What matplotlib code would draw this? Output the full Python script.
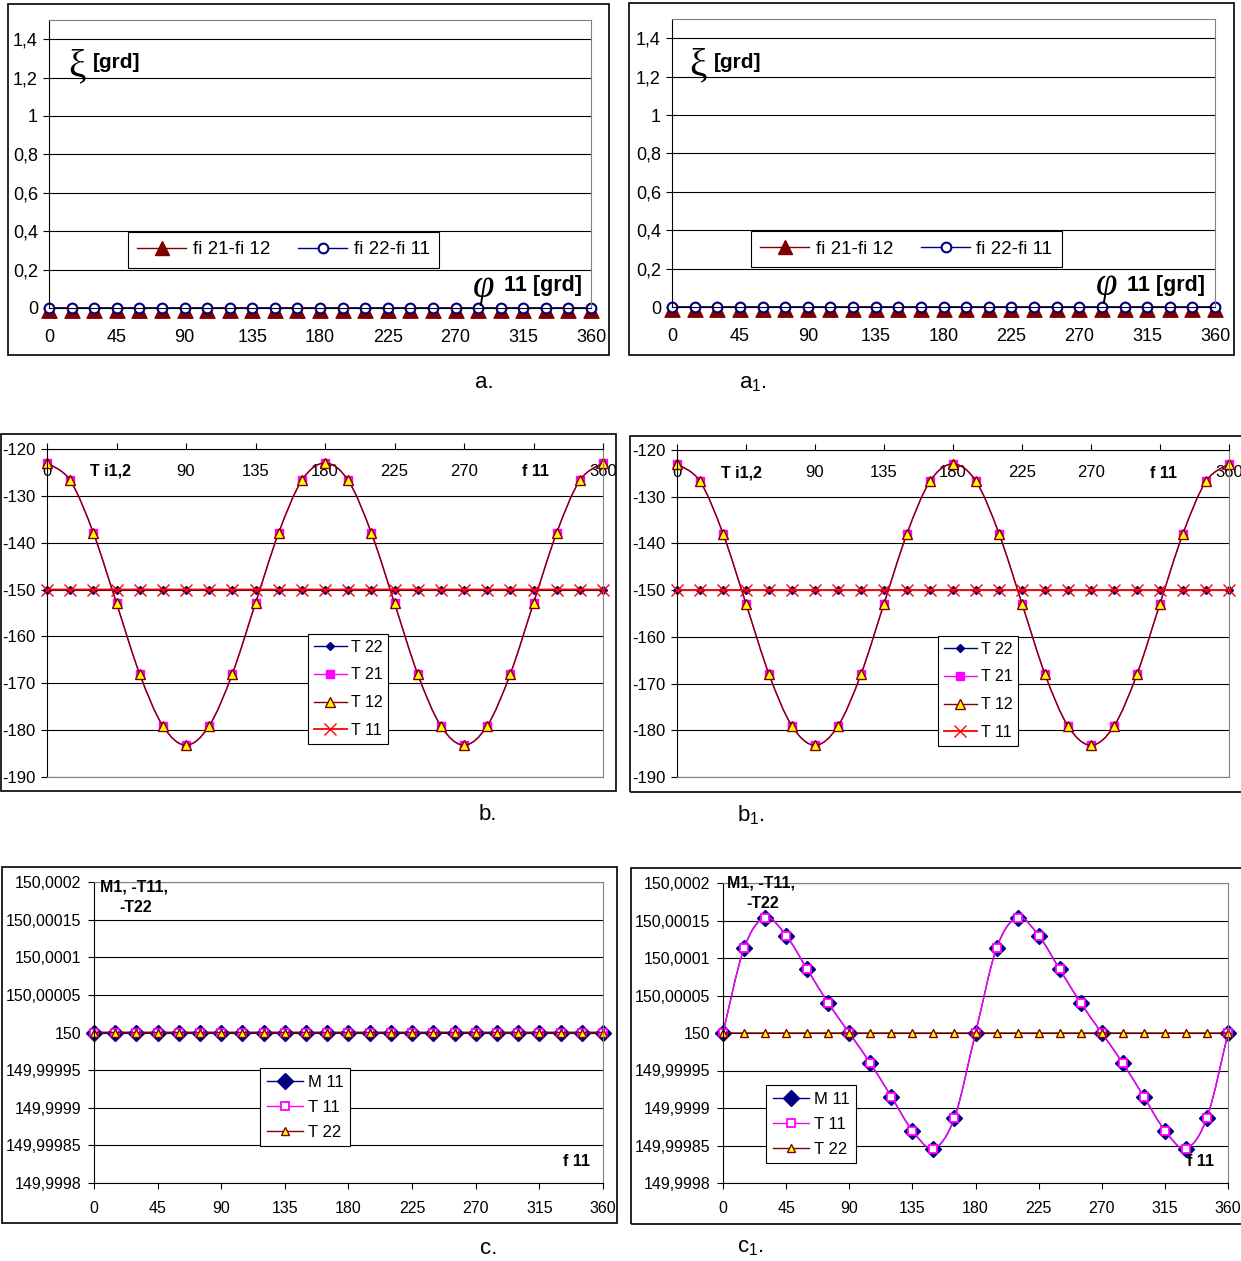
import numpy as np
import matplotlib
matplotlib.use("Agg")
import matplotlib.pyplot as plt
from matplotlib.path import Path
from matplotlib.patches import PathPatch, Rectangle
from matplotlib.lines import Line2D

plt.rcParams['font.family'] = ['Liberation Sans', 'DejaVu Sans']
plt.rcParams['mathtext.fontset'] = 'custom'
plt.rcParams['mathtext.rm'] = 'Liberation Sans'
plt.rcParams['mathtext.it'] = 'Liberation Sans:italic'

# crank angle f11 [deg]
PHI = [0, 15, 30, 45, 60, 75, 90, 105, 120, 135, 150, 165, 180,
       195, 210, 225, 240, 255, 270, 285, 300, 315, 330, 345, 360]
X_TICKS = [0, 45, 90, 135, 180, 225, 270, 315, 360]
X_LABELS = ['0', '45', '90', '135', '180', '225', '270', '315', '360']
# in b/b1 the 45 and 315 slots are taken by the axis titles
X_LABELS_B = ['0', '', '90', '135', '180', '225', '270', '', '360']

# a / a1 : phase differences
FI21_FI12 = [0, 0, 0, 0, 0, 0, 0, 0, 0, 0, 0, 0, 0,
             0, 0, 0, 0, 0, 0, 0, 0, 0, 0, 0, 0]
FI22_FI11 = [0, 0, 0, 0, 0, 0, 0, 0, 0, 0, 0, 0, 0,
             0, 0, 0, 0, 0, 0, 0, 0, 0, 0, 0, 0]
A_TICKS = [0, 0.2, 0.4, 0.6, 0.8, 1.0, 1.2, 1.4]
A_LABELS = ['0', '0,2', '0,4', '0,6', '0,8', '1', '1,2', '1,4']

# b / b1 : joint forces
T22 = [-150, -150, -150, -150, -150, -150, -150, -150, -150, -150, -150, -150, -150,
       -150, -150, -150, -150, -150, -150, -150, -150, -150, -150, -150, -150]
T21 = [-123.0, -126.7, -137.9, -152.9, -168.0, -179.1, -183.2, -179.1, -168.0,
       -152.9, -137.9, -126.7, -123.0, -126.7, -137.9, -152.9, -168.0, -179.1,
       -183.2, -179.1, -168.0, -152.9, -137.9, -126.7, -123.0]
T12 = [-123.0, -126.7, -137.9, -152.9, -168.0, -179.1, -183.2, -179.1, -168.0,
       -152.9, -137.9, -126.7, -123.0, -126.7, -137.9, -152.9, -168.0, -179.1,
       -183.2, -179.1, -168.0, -152.9, -137.9, -126.7, -123.0]
T11 = [-150, -150, -150, -150, -150, -150, -150, -150, -150, -150, -150, -150, -150,
       -150, -150, -150, -150, -150, -150, -150, -150, -150, -150, -150, -150]
B_TICKS = [-190, -180, -170, -160, -150, -140, -130, -120]
B_LABELS = ['-190', '-180', '-170', '-160', '-150', '-140', '-130', '-120']

# c : moment and forces, rigid case
C_FLAT = [150, 150, 150, 150, 150, 150, 150, 150, 150, 150, 150, 150, 150,
          150, 150, 150, 150, 150, 150, 150, 150, 150, 150, 150, 150]
# c1 : moment M11 and force -T11, elastic case
M11_C1 = [150.0, 150.000113, 150.000154, 150.00013, 150.000085, 150.00004,
          150.0, 149.99996, 149.999915, 149.99987, 149.999846, 149.999887,
          150.0, 150.000113, 150.000154, 150.00013, 150.000085, 150.00004,
          150.0, 149.99996, 149.999915, 149.99987, 149.999846, 149.999887, 150.0]
T11_C1 = [150.0, 150.000113, 150.000154, 150.00013, 150.000085, 150.00004,
          150.0, 149.99996, 149.999915, 149.99987, 149.999846, 149.999887,
          150.0, 150.000113, 150.000154, 150.00013, 150.000085, 150.00004,
          150.0, 149.99996, 149.999915, 149.99987, 149.999846, 149.999887, 150.0]
T22_C1 = [150, 150, 150, 150, 150, 150, 150, 150, 150, 150, 150, 150, 150,
          150, 150, 150, 150, 150, 150, 150, 150, 150, 150, 150, 150]
C_TICKS = [149.9998, 149.99985, 149.9999, 149.99995, 150.0,
           150.00005, 150.0001, 150.00015, 150.0002]
C_LABELS = ['149,9998', '149,99985', '149,9999', '149,99995', '150',
            '150,00005', '150,0001', '150,00015', '150,0002']

NAVY = '#000080'
MAROON = '#800000'
MAGENTA = '#FF00FF'
RED = '#FF0000'
YELLOW = '#FFFF00'
GRAY = '#808080'

# triangle marker hanging slightly below its point
LOW_TRIANGLE = Path([(0, 0.7), (-1, -1.3), (1, -1.3), (0, 0.7)],
                    [Path.MOVETO, Path.LINETO, Path.LINETO, Path.CLOSEPOLY])

W, H = 1241, 1261
fig = plt.figure(figsize=(W / 100, H / 100), dpi=100)


def fx(x):
    return x / W


def fy(y):
    return 1 - y / H


def axes_px(left, top, right, bottom):
    return fig.add_axes([fx(left), fy(bottom), (right - left) / W, (bottom - top) / H])


def frame_px(left, top, right, bottom):
    fig.add_artist(Rectangle((fx(left), fy(bottom)), (right - left) / W, (bottom - top) / H,
                             transform=fig.transFigure, fill=False, ec='black', lw=1.2))


def text_px(x, y, s, **kw):
    kw.setdefault('va', 'center')
    kw.setdefault('ha', 'left')
    fig.text(fx(x), fy(y), s, **kw)


def smooth_path(xs, ys):
    # smoothed line like a spreadsheet chart: cubic bezier through every point
    pts = np.column_stack([xs, ys]).astype(float)
    n = len(pts)
    verts, codes = [pts[0]], [Path.MOVETO]
    for i in range(n - 1):
        p0, p1 = pts[max(i - 1, 0)], pts[i]
        p2, p3 = pts[i + 1], pts[min(i + 2, n - 1)]
        verts += [p1 + (p2 - p0) / 6.0, p2 - (p3 - p1) / 6.0, p2]
        codes += [Path.CURVE4] * 3
    return Path(verts, codes)


def series(ax, ys, color, z, lw=1.0, **mk):
    ax.add_patch(PathPatch(smooth_path(PHI, ys), fc='none', ec=color, lw=lw,
                           zorder=z, clip_on=False))
    ax.plot(PHI, ys, ls='none', zorder=z + 0.05, clip_on=False, **mk)
    return Line2D([], [], color=color, lw=lw, **mk)


def setup(ax, ylim, yticks, ylabels, fs, xpad, ypad, xlabels=X_LABELS):
    ax.set_xlim(0, 360)
    ax.set_ylim(*ylim)
    ax.set_xticks(X_TICKS, xlabels)
    ax.set_yticks(yticks, ylabels)
    ax.tick_params(axis='both', labelsize=fs, length=4, width=0.8, direction='out')
    ax.tick_params(axis='x', pad=xpad)
    ax.tick_params(axis='y', pad=ypad)
    ax.grid(axis='y', color='black', lw=0.8)
    ax.set_axisbelow(True)
    for s in ax.spines.values():
        s.set_color(GRAY)
        s.set_linewidth(0.8)
    ax.spines['left'].set_color('black')


def legend_px(handles, labels, x, y, fs, **kw):
    leg = fig.legend(handles, labels, loc='upper left', bbox_to_anchor=(fx(x), fy(y)),
                     bbox_transform=fig.transFigure, borderaxespad=0, fontsize=fs,
                     frameon=True, fancybox=False, shadow=False, framealpha=1,
                     edgecolor='black', **kw)
    leg.get_frame().set_linewidth(0.8)
    return leg


# ---- a, a1 : phase differences
for (fl, ft, fr, fb), (al, at, ar, ab), leg_xy, xi_x, phi_x, cap, cap_ha, cap_x in [
        ((8, 4, 609, 355), (49, 20, 591, 308), (128, 232), 68, 484, 'a.', 'center', 484),
        ((629, 3, 1234, 355), (672, 19, 1215, 307), (751, 231), 689, 1107, r'a$_1$.', 'left', 739)]:
    frame_px(fl, ft, fr, fb)
    ax = axes_px(al, at, ar, ab)
    setup(ax, (0, 1.5), A_TICKS, A_LABELS, 13, 11, 4)
    ax.spines['bottom'].set_color('black')
    series(ax, FI21_FI12, MAROON, 2.0, marker=LOW_TRIANGLE, ms=14, mfc=MAROON, mec=MAROON)
    h2 = series(ax, FI22_FI11, NAVY, 2.2, marker='o', ms=7, mfc='white', mec=NAVY, mew=1.5)
    h1 = Line2D([], [], color=MAROON, lw=1.0, marker='^', ms=10, mfc=MAROON, mec=MAROON)
    legend_px([h1, h2], ['fi 21-fi 12', 'fi 22-fi 11'], leg_xy[0], leg_xy[1], 13.5, ncol=2,
              handlelength=2.6, handletextpad=0.35, columnspacing=1.5, borderpad=0.5)
    text_px(xi_x, at + 47, 'ξ', fontsize=28, family='Liberation Serif')
    text_px(xi_x + 25, at + 43, '[grd]', fontsize=15, fontweight='bold')
    text_px(phi_x, ab - 21, 'φ', fontsize=28, family='Liberation Serif', style='italic', ha='center')
    text_px(phi_x + 20, ab - 22, '11 [grd]', fontsize=15.5, fontweight='bold')
    text_px(cap_x, 383, cap, fontsize=16, ha=cap_ha)

# ---- b, b1 : joint forces
for (fl, ft, fr, fb), (al, at, ar, ab), leg_xy, ti_x, f_x, dy, cap, cap_ha, cap_x in [
        ((1, 434, 616, 791), (47, 449, 603, 777), (308, 634), 90, 522, 0, 'b.', 'center', 488),
        ((630, 436, 1250, 792), (677, 450, 1229, 777), (938, 636), 721, 1150, 2, r'b$_1$.', 'left', 737)]:
    frame_px(fl, ft, fr, fb)
    ax = axes_px(al, at, ar, ab)
    setup(ax, (-190, -120), B_TICKS, B_LABELS, 12, 0, 4, xlabels=X_LABELS_B)
    ax.spines['top'].set_color('black')
    ax.xaxis.set_ticks_position('top')
    ax.tick_params(axis='x', top=True, bottom=False, labeltop=True, labelbottom=False,
                   direction='out', length=4, pad=-20.5)
    for t in ax.xaxis.get_major_ticks():
        t.label2.set_va('center')
    h22 = series(ax, T22, NAVY, 2.0, marker='D', ms=4, mfc=NAVY, mec=NAVY)
    h21 = series(ax, T21, MAGENTA, 2.2, marker='s', ms=6, mfc=MAGENTA, mec=MAGENTA)
    h12 = series(ax, T12, MAROON, 2.4, marker='^', ms=6.5, mfc=YELLOW, mec=MAROON, mew=1.0)
    h11 = series(ax, T11, RED, 2.6, lw=1.3, marker='x', ms=9, mfc=RED, mec=RED, mew=1.0)
    legend_px([h22, h21, h12, h11], ['T 22', 'T 21', 'T 12', 'T 11'], leg_xy[0], leg_xy[1], 11.5,
              handlelength=2.1, handletextpad=0.25, labelspacing=0.8, borderpad=0.35)
    text_px(ti_x, 471 + dy, 'T i1,2', fontsize=11.5, fontweight='bold')
    text_px(f_x, 472 + dy, 'f 11', fontsize=11.5, fontweight='bold')
    text_px(cap_x, 815, cap, fontsize=16, ha=cap_ha)

# ---- c, c1 : moment M11 and forces
for (fl, ft, fr, fb), (al, at, ar, ab), leg_xy, m_x, m_y, f_x, cap, cap_ha, cap_x, data in [
        ((2, 867, 617, 1223), (94, 882, 603, 1183), (260, 1068), 100, 887, 563,
         'c.', 'center', 489, (C_FLAT, C_FLAT, C_FLAT)),
        ((631, 868, 1250, 1224), (723, 883, 1228, 1183), (766, 1085), 727, 883, 1187,
         r'c$_1$.', 'left', 737, (M11_C1, T11_C1, T22_C1))]:
    frame_px(fl, ft, fr, fb)
    ax = axes_px(al, at, ar, ab)
    setup(ax, (149.9998, 150.0002), C_TICKS, C_LABELS, 11.5, 9, 5)
    ax.spines['bottom'].set_color('black')
    hm = series(ax, data[0], NAVY, 2.0, marker='D', ms=8, mfc=NAVY, mec=NAVY)
    ht = series(ax, data[1], MAGENTA, 2.2, marker='s', ms=5.5, mfc='white', mec=MAGENTA, mew=1.3)
    hc = series(ax, data[2], MAROON, 2.4, marker='^', ms=6, mfc=YELLOW, mec=MAROON, mew=1.0)
    legend_px([hm, ht, hc], ['M 11', 'T 11', 'T 22'], leg_xy[0], leg_xy[1], 12,
              handlelength=2.2, handletextpad=0.25, labelspacing=0.6, borderpad=0.4)
    text_px(m_x, m_y, 'M1, -T11,', fontsize=11.5, fontweight='bold')
    text_px(m_x + 19, m_y + 21, '-T22', fontsize=11.5, fontweight='bold')
    text_px(f_x, 1162, 'f 11', fontsize=11.5, fontweight='bold')
    text_px(cap_x, 1248, cap, fontsize=16, ha=cap_ha)

fig.savefig('out.png', dpi=100)
